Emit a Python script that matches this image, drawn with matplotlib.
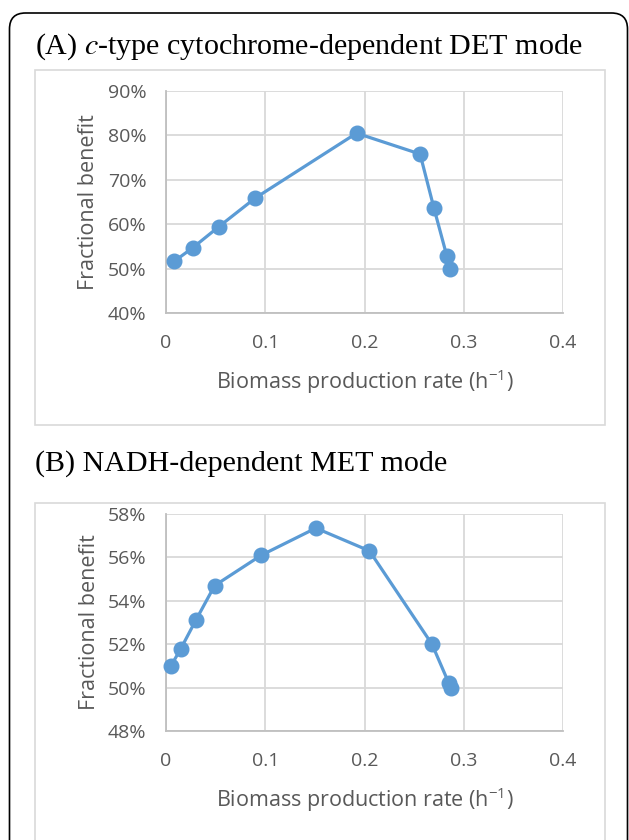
import matplotlib.pyplot as plt
from matplotlib.patches import FancyBboxPatch, Rectangle
from matplotlib.ticker import FuncFormatter

plt.rcParams['font.family'] = ['Open Sans', 'DejaVu Sans']
plt.rcParams['mathtext.default'] = 'regular'

# (A) c-type cytochrome-dependent DET mode
rate_a = [0.008, 0.027, 0.053, 0.090, 0.192, 0.256, 0.270, 0.283, 0.286]
benefit_a = [0.516, 0.547, 0.594, 0.659, 0.805, 0.758, 0.636, 0.528, 0.500]

# (B) NADH-dependent MET mode
rate_b = [0.005, 0.015, 0.030, 0.049, 0.096, 0.151, 0.205, 0.268, 0.285, 0.287]
benefit_b = [0.510, 0.518, 0.531, 0.547, 0.561, 0.5735, 0.563, 0.520, 0.502, 0.500]

xticks = [0, 0.1, 0.2, 0.3, 0.4]
yticks_a = [0.4, 0.5, 0.6, 0.7, 0.8, 0.9]
yticks_b = [0.48, 0.50, 0.52, 0.54, 0.56, 0.58]

W, H = 629, 840
BLUE = '#5B9BD5'
GRID = '#D9D9D9'
TXT = '#595959'

fig = plt.figure(figsize=(W / 100, H / 100), dpi=100)


def px_box(x0, y0, x1, y1):
    # pixel rectangle (top-left origin) -> figure fraction [l, b, w, h]
    return [x0 / W, 1 - y1 / H, (x1 - x0) / W, (y1 - y0) / H]


# outer rounded frame, laid out in inches so the corners stay circular
frame = FancyBboxPatch((0.095, -0.5), 6.18, (H - 13) / 100 + 0.5,
                       boxstyle='round,pad=0,rounding_size=0.16',
                       transform=fig.dpi_scale_trans, fill=False,
                       edgecolor='black', linewidth=1.2, clip_on=False)
fig.patches.append(frame)

# light panel boxes
for y0, y1 in [(70, 425), (503, 860)]:
    l, b, w, h = px_box(35, y0, 605, y1)
    fig.patches.append(Rectangle((l, b), w, h, transform=fig.transFigure,
                                 fill=False, edgecolor=GRID, linewidth=1.2))

fig.text(35 / W, 1 - 47 / H, '(A) $\\mathit{c}$-type cytochrome-dependent DET mode',
         family='Liberation Serif', fontsize=21.6, va='center', ha='left',
         math_fontfamily='stix')
fig.text(35 / W, 1 - 464 / H, '(B) NADH-dependent MET mode',
         family='Liberation Serif', fontsize=21.6, va='center', ha='left')

pct = FuncFormatter(lambda v, p: f'{v * 100:.0f}%')


def panel(box, x, y, yticks):
    ax = fig.add_axes(px_box(*box))
    ax.plot(x, y, color=BLUE, linewidth=2.3, marker='o', markersize=10.5,
            zorder=3, clip_on=False)
    ax.set_xlim(0, 0.4)
    ax.set_ylim(yticks[0], yticks[-1])
    ax.set_xticks(xticks)
    ax.set_xticklabels(['0', '0.1', '0.2', '0.3', '0.4'])
    ax.set_yticks(yticks)
    ax.yaxis.set_major_formatter(pct)
    ax.grid(True, color=GRID, linewidth=1.3)
    ax.set_axisbelow(True)
    for s in ['top', 'right']:
        ax.spines[s].set_visible(False)
    for s in ['left', 'bottom']:
        ax.spines[s].set_color('#BFBFBF')
        ax.spines[s].set_linewidth(1.3)
    ax.tick_params(length=0, labelsize=14, labelcolor=TXT)
    ax.tick_params(axis='x', pad=15)
    ax.tick_params(axis='y', pad=14)
    ax.set_ylabel('Fractional benefit', fontsize=15.5, color=TXT, labelpad=6)
    ax.set_xlabel('Biomass production rate (h$^{-1}$)', fontsize=15.5,
                  color=TXT, labelpad=11)
    return ax


panel((166, 91, 563, 313), rate_a, benefit_a, yticks_a)
panel((166, 514, 563, 731), rate_b, benefit_b, yticks_b)

fig.savefig('out.png', dpi=100)
